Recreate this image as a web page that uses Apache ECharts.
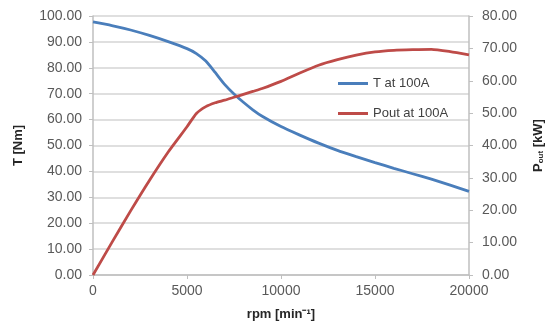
<!DOCTYPE html>
<html>
<head>
<meta charset="utf-8">
<script src="https://cdn.jsdelivr.net/npm/echarts@6/dist/echarts.min.js"></script>
<style>
  html, body { margin: 0; padding: 0; background: #fff; }
  #chart { width: 545px; height: 331px; }
</style>
</head>
<body>
<div id="chart"></div>
<script>
// speed points [rpm]
var rpm = [0, 1000, 2000, 3000, 4000, 5000, 5500, 6000, 6500, 7000, 7500, 8000, 8500, 9000, 10000,
           11000, 12000, 13000, 14000, 15000, 16000, 17000, 18000, 19000, 20000];
// torque T at 100A [Nm]
var torque = [97.7, 96.3, 94.6, 92.5, 90.1, 87.4, 85.5, 82.6, 78.2, 73.6, 69.9, 66.7, 63.8, 61.3, 57.3,
              54.0, 50.9, 48.1, 45.7, 43.4, 41.2, 39.1, 37.0, 34.7, 32.3];
// output power Pout at 100A [kW]
var pout = [0, 10.0, 19.8, 29.2, 38.0, 45.8, 49.9, 52.0, 53.2, 54.0, 54.9, 55.8, 56.7, 57.6, 59.8,
            62.4, 64.8, 66.5, 67.9, 68.9, 69.4, 69.6, 69.7, 69.0, 68.0];
var seriesNames = ['T at 100A', 'Pout at 100A'];

function pairs(ys) {
    return rpm.map(function (x, i) { return [x, ys[i]]; });
}

var labelColor = '#595959';
var axisGray = '#bfbfbf';
var font = 'Liberation Sans';

var chart = echarts.init(document.getElementById('chart'));

chart.setOption({
    animation: false,
    backgroundColor: '#fff',
    textStyle: { fontFamily: font },
    grid: { left: 93, right: 76, top: 16, bottom: 56, outerBoundsMode: 'none' },
    legend: {
        orient: 'vertical',
        left: 333,
        top: 72,
        itemWidth: 30,
        itemHeight: 3,
        itemGap: 17,
        icon: 'rect',
        textStyle: { color: '#404040', fontSize: 13, fontFamily: font },
        data: seriesNames
    },
    xAxis: {
        type: 'value',
        min: 0,
        max: 20000,
        interval: 5000,
        name: 'rpm [min\u207B\u00B9]',
        nameLocation: 'middle',
        nameGap: 33,
        nameTextStyle: { color: '#262626', fontWeight: 'bold', fontSize: 13 },
        axisLine: { lineStyle: { color: axisGray, width: 1.5 } },
        axisTick: { show: true, length: 4, lineStyle: { color: axisGray } },
        axisLabel: { color: labelColor, fontSize: 14, margin: 9,
            formatter: function (v) { return String(v); } },
        splitLine: { show: false }
    },
    yAxis: [{
        type: 'value',
        min: 0,
        max: 100,
        interval: 10,
        name: 'T [Nm]',
        nameLocation: 'middle',
        nameRotate: 90,
        nameGap: 68,
        nameTextStyle: { color: '#262626', fontWeight: 'bold', fontSize: 13 },
        axisLine: { show: true, lineStyle: { color: axisGray, width: 1.5 } },
        axisTick: { show: true, length: 4, lineStyle: { color: axisGray } },
        axisLabel: { color: labelColor, fontSize: 14, margin: 11,
            formatter: function (v) { return v.toFixed(2); } },
        splitLine: { lineStyle: { color: '#d4d4d4', width: 1.5 } }
    }, {
        type: 'value',
        min: 0,
        max: 80,
        interval: 10,
        name: '{a|P}{b|out}{a| [kW]}',
        nameLocation: 'middle',
        nameRotate: 90,
        nameGap: 62,
        nameTextStyle: {
            color: '#262626',
            rich: {
                a: { fontWeight: 'bold', fontSize: 13, color: '#262626', fontFamily: font },
                b: { fontWeight: 'bold', fontSize: 8, color: '#262626', fontFamily: font, padding: [6, 0, 0, 0] }
            }
        },
        axisLine: { show: true, lineStyle: { color: axisGray, width: 1.5 } },
        axisTick: { show: true, length: 4, lineStyle: { color: axisGray } },
        axisLabel: { color: labelColor, fontSize: 14, margin: 13,
            formatter: function (v) { return v.toFixed(2); } },
        splitLine: { show: false }
    }],
    series: [{
        name: seriesNames[0],
        type: 'line',
        yAxisIndex: 0,
        smooth: 0.2,
        showSymbol: false,
        lineStyle: { color: '#4a7ebb', width: 2.8 },
        itemStyle: { color: '#4a7ebb' },
        data: pairs(torque)
    }, {
        name: seriesNames[1],
        type: 'line',
        yAxisIndex: 1,
        smooth: 0.2,
        showSymbol: false,
        lineStyle: { color: '#be4b48', width: 2.8 },
        itemStyle: { color: '#be4b48' },
        data: pairs(pout)
    }]
});

window.addEventListener('resize', function () {
    chart.resize();
});
</script>
</body>
</html>
